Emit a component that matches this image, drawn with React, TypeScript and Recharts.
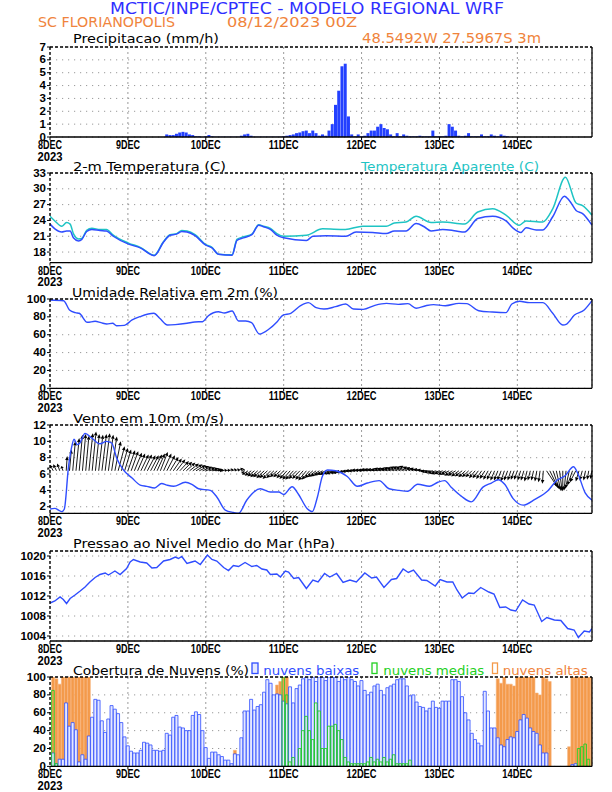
import React from 'react';
import { ComposedChart, Bar, Line, XAxis, YAxis, CartesianGrid, ReferenceLine } from 'recharts';

// ---------- axis categories ----------
const dayTicks = [0, 24, 48, 72, 96, 120, 144];
const dayLabels = ['8DEC', '9DEC', '10DEC', '11DEC', '12DEC', '13DEC', '14DEC'];
const yearLabel = '2023';
const hours = Array.from({ length: 168 }, (_, i) => i);

// ---------- precipitation (mm/h), hourly ----------
const precip = [
  0, 0, 0, 0, 0, 0, 0, 0, 0, 0,
  0, 0, 0, 0, 0, 0, 0, 0, 0, 0,
  0, 0, 0, 0, 0, 0, 0, 0, 0, 0,
  0, 0, 0, 0, 0, 0, 0.2, 0.15, 0.15, 0.25,
  0.35, 0.4, 0.35, 0.2, 0.15, 0.05, 0.05, 0, 0.05, 0.15,
  0.05, 0.02, 0.02, 0.02, 0.02, 0.02, 0.02, 0.02, 0.02, 0.1,
  0.2, 0.25, 0.1, 0.02, 0.02, 0.02, 0.02, 0.02, 0.02, 0.02,
  0.02, 0.02, 0.05, 0.1, 0.15, 0.2, 0.3, 0.35, 0.45, 0.5,
  0.3, 0.5, 0.3, 0.1, 0.2, 0.1, 0.5, 1.0, 2.5, 3.6,
  5.5, 5.7, 1.6, 0.2, 0.05, 0.2, 0.05, 0.1, 0.3, 0.5,
  0.5, 0.8, 1.0, 0.7, 0.6, 0.2, 0.05, 0.3, 0.05, 0.2,
  0.1, 0.05, 0.05, 0.05, 0.1, 0.05, 0.05, 0.05, 0.5, 0.05,
  0.05, 0.05, 0.1, 1.0, 0.8, 0.5, 0.1, 0.05, 0.1, 0.3,
  0.05, 0.05, 0.05, 0.2, 0.05, 0.05, 0.2, 0.1, 0.05, 0.2,
  0.1, 0.05, 0, 0, 0, 0, 0, 0, 0, 0,
  0, 0, 0, 0, 0, 0, 0, 0, 0, 0,
  0, 0, 0, 0, 0, 0, 0, 0,
];

// ---------- 2 m temperature (C) ----------
const tempHours = [0, 1.5, 3.6, 5.1, 6.2, 7.2, 8.8, 9.8, 11.3, 12.9, 15.4, 17.4, 19.5, 24.2, 27.8, 32.1, 35, 37, 39, 40.6, 42.2, 44.7, 48, 49.9, 51.9, 56.1, 57.6, 59.6, 62.2, 64.3, 65.8, 67.9, 69.9, 72, 79, 81, 85.1, 91.2, 94.3, 99.4, 103.6, 106.1, 109.7, 112.8, 115.3, 117.4, 121, 125.1, 127.7, 131.8, 136.4, 140.5, 142.6, 145.1, 146.7, 149.8, 151.8, 154.9, 158.5, 160, 162.1, 164.1, 167];
const tempValues = [23.3, 22.4, 21.8, 22.0, 22.0, 20.7, 20.1, 20.4, 21.9, 22.3, 22.1, 22.0, 21.0, 19.5, 18.8, 17.3, 19.9, 21.2, 21.4, 21.9, 21.8, 21.1, 19.3, 18.8, 17.6, 17.4, 20.2, 20.7, 21.3, 23.1, 22.8, 22.3, 21.2, 20.7, 20.2, 21.0, 21.1, 21.0, 21.8, 21.7, 21.5, 22.0, 22.0, 23.4, 22.8, 22.0, 22.3, 22.0, 21.8, 24.35, 24.8, 23.9, 22.6, 21.7, 22.6, 22.2, 22.2, 24.7, 28.6, 27.8, 25.9, 25.3, 23.1];

// ---------- apparent temperature (C) ----------
const appHours = [0, 1.5, 3.6, 5.1, 6.2, 7.2, 8.8, 9.8, 11.3, 12.9, 15.4, 17.4, 19.5, 24.2, 27.8, 32.1, 35, 37, 39, 40.6, 42.2, 44.7, 48, 49.9, 51.9, 56.1, 57.6, 59.6, 62.2, 64.3, 65.8, 67.9, 69.9, 72, 79, 84, 91, 96.4, 103.6, 106.1, 109.7, 112.8, 117.4, 121, 127.7, 131.8, 136.4, 140.5, 144.6, 146.7, 151.8, 154.9, 158.8, 162.1, 164.1, 167];
const appValues = [24.8, 23.9, 22.9, 23.6, 23.3, 21.5, 20.5, 20.6, 22.1, 22.5, 22.3, 22.3, 21.2, 19.7, 18.9, 17.4, 20.0, 21.3, 21.5, 22.1, 22.0, 21.3, 19.4, 18.9, 17.6, 17.5, 20.4, 20.9, 21.4, 23.2, 22.9, 22.5, 21.5, 21.0, 21.2, 22.4, 22.3, 22.9, 22.9, 23.5, 23.7, 24.8, 23.6, 23.7, 23.3, 25.6, 26.2, 25.0, 23.1, 23.9, 23.7, 26.2, 32.2, 27.3, 26.8, 25.0];

// ---------- relative humidity (%) ----------
const rhHours = [0, 4.2, 6, 7.8, 9, 11.5, 13.9, 15.7, 17.5, 19.3, 20.5, 22.9, 25.3, 27.7, 32, 33.8, 36.2, 38.6, 42.2, 44.6, 47, 48.8, 51.9, 53.7, 56.1, 58.1, 60.3, 62.1, 64.5, 67.5, 70, 71.8, 74.2, 77.2, 79.6, 82, 84.4, 88, 91.1, 93.5, 96.5, 100.1, 103.7, 107.3, 110.3, 112.8, 115.8, 118.2, 121.8, 126, 128.4, 132.1, 136.3, 140.5, 142.3, 144.7, 147.7, 151.9, 154.9, 158, 159.2, 161.6, 164.6, 167];
const rhValues = [98.9, 98.1, 87.7, 84.7, 84, 73.9, 75, 73.5, 72, 72.8, 70.1, 70.5, 76.5, 80.2, 84, 78.4, 70.9, 71.3, 72.8, 74.3, 74.6, 81.3, 85.8, 84.3, 86.6, 75.4, 75.4, 73.5, 60.8, 66.4, 74.6, 82, 84, 92.5, 95.9, 90.3, 88.8, 91.4, 94.4, 88.8, 88.4, 92.9, 95.1, 94, 94.8, 89.6, 92.5, 93.7, 92.5, 95.1, 94.8, 86.9, 85.4, 84.7, 94.4, 97.4, 95.9, 95.9, 84, 70.9, 72, 82, 87.7, 98.1];

// ---------- 10 m wind speed (m/s) ----------
const windHours = [0, 1.5, 2.6, 3.6, 4.4, 5.7, 6.7, 7.4, 8.4, 9.2, 10.8, 12.9, 15.4, 17.4, 19, 20.6, 22.6, 25.2, 27.8, 29.8, 32.2, 34.4, 36, 38.1, 41.7, 43.7, 45.8, 49.4, 51.4, 54, 56.5, 58.1, 60.6, 64.8, 67.9, 70.5, 72, 74.6, 76.6, 79.2, 80.8, 82.4, 83.9, 85.5, 88, 91.6, 94.7, 97.8, 101.4, 104.5, 107.6, 110.2, 113.3, 116.9, 119.5, 121.6, 123.6, 126.7, 129.8, 133.4, 136, 138.1, 140.1, 142.7, 145.8, 149.4, 153.5, 156.1, 158.7, 161.3, 162.6, 164.9, 167];
const windValues = [1.72, 1.8, 1.6, 1.4, 1.7, 6.9, 9.35, 10.25, 9.6, 9.8, 10.98, 10.4, 9.7, 10.0, 9.8, 7.9, 6.5, 5.55, 4.65, 4.5, 4.3, 4.85, 4.65, 4.5, 5.0, 4.75, 4.2, 4.0, 3.2, 1.6, 1.3, 1.2, 2.8, 4.2, 3.8, 3.8, 3.5, 4.45, 3.5, 1.8, 1.4, 3.2, 5.7, 6.5, 6.4, 5.7, 4.5, 4.9, 5.2, 4.2, 4.0, 3.9, 4.75, 4.5, 5.0, 5.2, 4.4, 3.3, 2.6, 4.4, 4.9, 5.3, 4.75, 3.0, 2.2, 2.9, 4.0, 5.2, 5.8, 6.9, 6.1, 3.7, 2.8];

// ---------- wind vectors (hourly): base level and tip offsets ----------
const windArrowBase = 6.4;
const windTipDx = [
  -0.8, -1, -1, -0.8, -0.5,
  0.3,
  0.6, 0.8, 1, 1, 1, 1, 1.2, 1.2, 1.2, 1.3, 1.4, 1.4, 1.5, 1.6,
  1.8, 2, 2, 2, 2.2, 2.2, 2.3, 2.3, 2.4, 2.4, 2.5, 2.5, 2.5, 2.4, 2.3, 2.4, 2.5, 2.6, 2.6, 2.7, 2.8, 2.8, 2.8, 2.9, 3, 3, 3, 3, 3, 3, 3,
  2.5, 1.5, 1.5, 1.5, 1.5, 1.5, 1.5, 1.5, 1,
  -1,
  -1.8, -2, -2.2, -2.3, -2.4, -2.4, -2.5, -2.5, -2.4, -2.3, -2.2, -2.2, -2.3, -2.4, -2.5, -2.5, -2.4, -2.4, -2.5, -2.5,
  -2.6, -2.7, -2.8, -2.8, -2.9, -3, -3, -3, -3, -3.1, -3.1, -3.1,
  -3.2, -3.2, -3.3, -3.3, -3.3, -3.4, -3.4, -3.4, -3.4, -3.3, -3.3, -3.3,
  -3.3, -3.3, -3.4, -3.4, -3.5, -3.5, -3.5, -3.4, -3.4, -3.3, -3.2, -3.1,
  -3, -2.9, -2.8, -2.8, -2.7, -2.6, -2.6, -2.5, -2.5, -2.4, -2.3, -2.2, -2.1, -2, -1.9, -1.8, -1.7, -1.6,
  -1.5, -1.4, -1.3, -1.2, -1.2, -1.1, -1.1, -1, -1, -1, -0.9, -0.9, -0.8, -0.8, -0.7, -0.6, -0.5, -0.3,
  3.2, 2.6, 2.0, 1.4, 0.8, 0, -0.6, -1.2, -1.6, -1.8,
  -1, -0.8, -0.6, -0.5, -0.5,
];
const windTipDy = [
  0.4, 0.7, 0.8, 0.9, 0.6,
  1.8,
  2.6, 3.6, 4.0, 4.4, 4.5, 4.3, 4.6, 4.8, 4.5, 4.4, 4.5, 4.6, 4.4, 4.2,
  3.6, 3.0, 2.8, 2.6, 2.5, 2.4, 2.2, 2.1, 2.0, 2.0, 1.9, 1.9, 2.0, 2.1, 2.3, 2.1, 1.9, 1.7, 1.5, 1.4, 1.2, 1.1, 1.0, 0.9, 0.8, 0.7, 0.6, 0.5, 0.4, 0.3, 0.2,
  0.1, 0.1, 0.1, 0.1, 0.2, 0.2, 0.2, 0.3, 0.2,
  -0.3,
  -0.5, -0.6, -0.7, -0.8, -0.8, -0.9, -0.9, -1.0, -0.9, -0.8, -0.8, -0.9, -1.0, -1.1, -1.1, -1.0, -1.0, -1.1, -1.2, -1.1,
  -0.9, -0.8, -0.7, -0.6, -0.5, -0.5, -0.4, -0.4, -0.3, -0.3, -0.2, -0.2,
  -0.1, 0, 0, 0.1, 0.1, 0.1, 0.2, 0.2, 0.2, 0.2, 0.3, 0.3,
  0.3, 0.4, 0.4, 0.5, 0.5, 0.5, 0.6, 0.5, 0.4, 0.3, 0.2, 0.1,
  -0.1, -0.2, -0.3, -0.4, -0.4, -0.5, -0.5, -0.6, -0.6, -0.7, -0.7, -0.8, -0.8, -0.8, -0.9, -0.9, -1.0, -1.0,
  -1.1, -1.1, -1.2, -1.2, -1.2, -1.3, -1.2, -1.2, -1.1, -1.1, -1.2, -1.2, -1.3, -1.2, -1.2, -1.3, -1.4, -1.6,
  -1.9, -2.1, -2.3, -2.4, -2.5, -2.5, -2.4, -2.2, -1.8, -1.4,
  -1.3, -1.2, -1.2, -1.1, -1.0,
];

// ---------- sea level pressure (hPa) ----------
const pHours = [0, 1.5, 3.1, 4.1, 5.1, 6.2, 7.7, 9.3, 10.8, 12.3, 13.9, 15.4, 17, 18, 20, 21.6, 23.6, 24.7, 25.7, 27.8, 29.8, 31.4, 32.9, 35, 37, 38.6, 39.6, 40.6, 42.2, 43.7, 44.7, 46.3, 48.5, 49.9, 51.4, 53.5, 55, 56.5, 58.1, 60.1, 62.2, 63.7, 65.3, 66.8, 67.9, 69.9, 71, 72.5, 73.5, 75.1, 76.6, 79, 81, 82.6, 84.6, 86.2, 88.3, 90.3, 92.4, 94.4, 97, 99.1, 100.6, 102.9, 105.2, 106.8, 108.8, 110.4, 112, 114.5, 116.1, 118.7, 120.2, 122.3, 124.1, 125.4, 127, 129, 130.6, 132.7, 135.2, 136.8, 138.6, 140.4, 142, 143.5, 145.6, 147.6, 149.2, 151.5, 153.1, 155.4, 157.4, 159.5, 161.5, 162.8, 164.6, 166.2, 167];
const pValues = [1010.6, 1011.0, 1011.8, 1011.3, 1010.5, 1011.5, 1012.2, 1013.0, 1013.8, 1014.8, 1015.7, 1016.3, 1016.6, 1016.2, 1017.0, 1016.3, 1017.5, 1018.8, 1019.3, 1018.8, 1018.6, 1017.6, 1017.7, 1019.0, 1019.3, 1019.8, 1019.5, 1019.9, 1018.5, 1018.8, 1019.0, 1018.3, 1020.2, 1019.3, 1019.0, 1017.7, 1017.1, 1018.1, 1017.9, 1018.7, 1017.9, 1018.1, 1017.4, 1017.2, 1016.3, 1016.4, 1015.8, 1017.0, 1016.8, 1015.5, 1015.7, 1013.5, 1015.2, 1014.8, 1016.5, 1015.8, 1016.5, 1014.7, 1015.2, 1014.8, 1016.6, 1015.6, 1015.8, 1013.7, 1015.3, 1015.5, 1017.4, 1016.7, 1017.2, 1015.2, 1015.1, 1014.0, 1015.3, 1014.8, 1014.8, 1013.2, 1011.6, 1012.6, 1012.5, 1013.7, 1012.8, 1012.4, 1009.7, 1009.8, 1009.2, 1009.0, 1011.2, 1010.4, 1010.2, 1006.9, 1007.7, 1007.2, 1007.1, 1005.5, 1005.2, 1003.7, 1005.0, 1004.8, 1005.5];

// ---------- cloud cover (%), hourly ----------
const cloudLow = [
  0, 15, 3, 8, 8, 71, 45, 49, 41, 5,
  13, 8, 34, 55, 75, 74, 51, 38, 53, 68,
  64, 59, 49, 33, 23, 17, 15, 15, 18, 27,
  26, 24, 18, 18, 17, 18, 37, 35, 55, 57,
  44, 43, 40, 40, 57, 61, 58, 40, 21, 9,
  16, 16, 13, 11, 7, 7, 3, 14, 13, 32,
  62, 62, 75, 63, 67, 69, 83, 97, 93, 80,
  81, 80, 73, 70, 89, 71, 87, 91, 98, 100,
  97, 100, 95, 100, 100, 96, 100, 100, 100, 95,
  100, 97, 100, 97, 95, 90, 96, 85, 80, 83,
  90, 92, 85, 80, 88, 90, 92, 97, 98, 98,
  90, 79, 80, 72, 67, 66, 62, 65, 73, 66,
  65, 73, 73, 73, 97, 97, 95, 78, 60, 52,
  37, 30, 26, 23, 84, 62, 43, 43, 32, 24,
  22, 30, 33, 32, 39, 52, 58, 54, 43, 39,
  37, 24, 15, 15, 0, 0, 0, 0, 0, 0,
  0, 2, 3, 0, 0, 0, 0, 0,
];
const cloudMid = [
  0, 85, 3, 0, 0, 0, 0, 0, 0, 0,
  0, 0, 0, 0, 0, 0, 0, 0, 0, 0,
  0, 0, 0, 0, 0, 0, 0, 0, 0, 0,
  0, 0, 0, 0, 0, 0, 0, 0, 0, 0,
  0, 0, 0, 0, 0, 0, 0, 0, 0, 0,
  0, 0, 0, 0, 0, 0, 0, 0, 0, 0,
  0, 0, 0, 0, 0, 0, 0, 0, 0, 0,
  0, 0, 100, 80, 5, 10, 0, 20, 40, 56,
  40, 30, 71, 62, 20, 20, 45, 45, 47, 40,
  30, 10, 5, 3, 3, 3, 3, 3, 5, 10,
  5, 8, 5, 10, 5, 8, 13, 3, 3, 3,
  3, 7, 0, 0, 0, 0, 0, 0, 0, 0,
  0, 0, 0, 0, 0, 0, 0, 0, 0, 0,
  0, 0, 0, 0, 0, 0, 0, 0, 0, 0,
  0, 0, 0, 0, 0, 0, 0, 0, 0, 0,
  0, 0, 0, 0, 0, 0, 0, 0, 0, 0,
  0, 0, 0, 20, 22, 25, 8, 0,
];
const cloudHigh = [
  0, 100, 98, 92, 100, 100, 100, 100, 100, 100,
  100, 100, 100, 25, 0, 0, 0, 0, 0, 0,
  0, 0, 0, 0, 0, 0, 0, 0, 0, 0,
  0, 0, 0, 0, 0, 0, 0, 0, 0, 0,
  0, 0, 0, 0, 0, 0, 0, 0, 0, 0,
  0, 0, 0, 0, 0, 0, 0, 18, 5, 0,
  0, 0, 0, 0, 0, 0, 0, 0, 0, 44,
  91, 95, 100, 100, 30, 25, 0, 0, 0, 0,
  0, 0, 0, 0, 0, 0, 0, 0, 0, 0,
  0, 0, 0, 0, 0, 0, 0, 0, 0, 0,
  0, 0, 0, 0, 0, 0, 0, 0, 0, 0,
  0, 0, 0, 0, 0, 0, 0, 0, 0, 0,
  0, 0, 0, 0, 0, 0, 0, 7, 0, 0,
  0, 0, 0, 0, 0, 0, 0, 12, 98, 93,
  100, 92, 92, 90, 100, 100, 100, 100, 100, 100,
  82, 80, 100, 98, 95, 0, 0, 0, 0, 0,
  22, 100, 100, 100, 100, 100, 100, 100,
];

// ---------- tables built from the arrays ----------
const zip = (xs: number[], vs: number[]) => xs.map((h, i) => ({ h, v: vs[i] }));
const precipData = hours.map((h) => ({ h, v: precip[h] }));
const tempData = zip(tempHours, tempValues);
const appData = zip(appHours, appValues);
const rhData = zip(rhHours, rhValues);
const windData = zip(windHours, windValues);
const pData = zip(pHours, pValues);
const cloudData = hours.map((h) => ({ h, low: cloudLow[h], mid: cloudMid[h], high: cloudHigh[h] }));

// ---------- styles ----------
const BLUE = '#2f4dff';
const CYAN = '#1ec4c4';
const ORANGE_TXT = '#f0843c';
const HEAD_BLUE = '#2f2fff';
const FONT_TICK = '"Liberation Sans", Arial, sans-serif';
const FONT_TITLE = '"DejaVu Sans", "Liberation Sans", sans-serif';
const X_AXIS_H = 26;
const TOP_PAD = 8;
const X_MAX = 167;

const renderXTick = (props: any) => {
  const { x, y, payload } = props;
  const i = dayTicks.indexOf(payload.value);
  const label = i >= 0 ? dayLabels[i] : '';
  return (
    <g>
      <text x={x} y={y + 7} textAnchor="middle" fontFamily={FONT_TICK} fontWeight="bold" fontSize={12} fill="#000" textLength={label.length * 6} lengthAdjust="spacingAndGlyphs">{label}</text>
      {payload.value === 0 ? (
        <text x={x} y={y + 18.5} textAnchor="middle" fontFamily={FONT_TICK} fontWeight="bold" fontSize={12} fill="#000" textLength={25} lengthAdjust="spacingAndGlyphs">{yearLabel}</text>
      ) : null}
    </g>
  );
};

const renderYTick = (props: any) => {
  const { x, y, payload } = props;
  const s = String(payload.value);
  return (
    <text x={x} y={y} dy={3.6} textAnchor="end" fontFamily={FONT_TICK} fontWeight="bold" fontSize={11.5} fill="#000" textLength={s.length * 6.4} lengthAdjust="spacingAndGlyphs">{s}</text>
  );
};

const renderArrow = (p: any) => {
  const { x1, y1, x2, y2 } = p;
  const dx = x2 - x1;
  const dy = y2 - y1;
  const len = Math.hypot(dx, dy);
  if (!isFinite(len) || len < 0.8) return <g />;
  const ux = dx / len;
  const uy = dy / len;
  const hl = Math.min(4, len * 0.45);
  const hw = 1.8;
  const bx = x2 - ux * hl;
  const by = y2 - uy * hl;
  return (
    <g>
      <line x1={x1} y1={y1} x2={bx} y2={by} stroke="#000" strokeWidth={0.9} />
      <polygon points={`${x2},${y2} ${bx - uy * hw},${by + ux * hw} ${bx + uy * hw},${by - ux * hw}`} fill="#000" />
    </g>
  );
};

function frame(yDomain: number[], yTicks: number[]) {
  return [
    <CartesianGrid key="gh" vertical={false} stroke="#9a9a9a" strokeDasharray="1.2 4.8" />,
    <CartesianGrid key="gv" horizontal={false} stroke="#9a9a9a" strokeDasharray="2 3" />,
    <XAxis key="x" dataKey="h" type="number" domain={[0, X_MAX]} ticks={dayTicks} interval={0} allowDataOverflow
      tick={renderXTick} tickSize={3} tickMargin={2} tickLine={{ stroke: '#000' }} axisLine={{ stroke: '#000', strokeWidth: 1.3 }} height={X_AXIS_H} />,
    <YAxis key="y" type="number" domain={yDomain} ticks={yTicks} interval={0} allowDataOverflow width={50}
      tick={renderYTick} tickSize={3} tickMargin={1} tickLine={{ stroke: '#000' }} axisLine={{ stroke: '#000', strokeWidth: 1.3, strokeDasharray: '3 2' }} />,
  ];
}

function border(yTop: number) {
  return [
    <ReferenceLine key="bt" y={yTop} stroke="#000" strokeWidth={1.3} strokeDasharray="3 2" ifOverflow="visible" />,
    <ReferenceLine key="br" x={X_MAX} stroke="#000" strokeWidth={1.3} ifOverflow="visible" />,
  ];
}

const Panel = ({ top, plotH, data, children }: any) => (
  <div style={{ position: 'absolute', left: 0, top: top - TOP_PAD }}>
    <ComposedChart width={612} height={plotH + TOP_PAD + X_AXIS_H} data={data} margin={{ top: TOP_PAD, right: 20, bottom: 0, left: 0 }}>
      {children}
    </ComposedChart>
  </div>
);

const T = ({ x, y, w, size = 13, color = '#000', children }: any) => (
  <text x={x} y={y} fontFamily={FONT_TITLE} fontSize={size} fill={color} textLength={w} lengthAdjust="spacingAndGlyphs">{children}</text>
);

export default function App() {
  const windArrows = hours.map((h) => (
    <ReferenceLine key={'a' + h} ifOverflow="visible" shape={renderArrow}
      segment={[{ x: h, y: windArrowBase }, { x: h + windTipDx[h], y: windArrowBase + windTipDy[h] }]} />
  ));
  return (
    <div style={{ position: 'absolute', left: 0, top: 0, width: 612, height: 792, background: '#fff' }}>
      {/* Precipitation */}
      <Panel top={46.7} plotH={90} data={precipData}>
        {frame([0, 7], [0, 1, 2, 3, 4, 5, 6, 7])}
        <Bar dataKey="v" fill="#2340ff" barSize={3} isAnimationActive={false} />
        {border(7)}
      </Panel>

      {/* Temperature */}
      <Panel top={172.7} plotH={89.6}>
        {frame([16, 33], [18, 21, 24, 27, 30, 33])}
        <Line data={appData} dataKey="v" type="monotone" stroke={CYAN} strokeWidth={1.5} dot={false} isAnimationActive={false} />
        <Line data={tempData} dataKey="v" type="monotone" stroke={BLUE} strokeWidth={1.5} dot={false} isAnimationActive={false} />
        {border(33)}
      </Panel>

      {/* Relative humidity */}
      <Panel top={299} plotH={89.3}>
        {frame([0, 100], [0, 20, 40, 60, 80, 100])}
        <Line data={rhData} dataKey="v" type="monotone" stroke={BLUE} strokeWidth={1.4} dot={false} isAnimationActive={false} />
        {border(100)}
      </Panel>

      {/* Wind */}
      <Panel top={425} plotH={88.3}>
        {frame([1.2, 12], [2, 4, 6, 8, 10, 12])}
        {windArrows}
        <Line data={windData} dataKey="v" type="monotone" stroke={BLUE} strokeWidth={1.4} dot={false} isAnimationActive={false} />
        {border(12)}
      </Panel>

      {/* Pressure */}
      <Panel top={550.7} plotH={90}>
        {frame([1003, 1021], [1004, 1008, 1012, 1016, 1020])}
        <Line data={pData} dataKey="v" type="linear" stroke={BLUE} strokeWidth={1.4} dot={false} isAnimationActive={false} />
        {border(1021)}
      </Panel>

      {/* Clouds */}
      <Panel top={677.3} plotH={89.4} data={cloudData}>
        {frame([0, 100], [0, 20, 40, 60, 80, 100])}
        <XAxis xAxisId="b" dataKey="h" type="number" domain={[0, X_MAX]} allowDataOverflow hide />
        <XAxis xAxisId="c" dataKey="h" type="number" domain={[0, X_MAX]} allowDataOverflow hide />
        <Bar dataKey="high" fill="#f49a4a" stroke="#f7b27a" strokeWidth={0.6} barSize={3} isAnimationActive={false} />
        <Bar xAxisId="b" dataKey="low" fill="#e4e8ff" stroke="#2f4dff" strokeWidth={0.8} barSize={3} isAnimationActive={false} />
        <Bar xAxisId="c" dataKey="mid" fill="none" stroke="#22d022" strokeWidth={0.9} barSize={2.6} isAnimationActive={false} />
        {border(100)}
      </Panel>

      {/* Texts */}
      <svg width={612} height={792} style={{ position: 'absolute', left: 0, top: 0, pointerEvents: 'none' }}>
        <T x={110} y={13.5} w={394} size={15} color={HEAD_BLUE}>MCTIC/INPE/CPTEC - MODELO REGIONAL WRF</T>
        <T x={38} y={26.5} w={137} size={14} color={ORANGE_TXT}>SC FLORIANOPOLIS</T>
        <T x={227} y={26.5} w={130} size={14} color={ORANGE_TXT}>08/12/2023 00Z</T>
        <T x={362} y={42.5} w={179} size={14} color={ORANGE_TXT}>48.5492W 27.5967S 3m</T>
        <T x={73} y={43.3} w={146}>Precipitacao (mm/h)</T>
        <T x={73} y={170.7} w={153}>2-m Temperatura (C)</T>
        <T x={361} y={170.7} w={178} color={CYAN}>Temperatura Aparente (C)</T>
        <T x={72} y={296.7} w={206}>Umidade Relativa em 2m (%)</T>
        <T x={73} y={422.7} w={151}>Vento em 10m (m/s)</T>
        <T x={73} y={548.3} w={262}>Pressao ao Nivel Medio do Mar (hPa)</T>
        <T x={73} y={675} w={176}>Cobertura de Nuvens (%)</T>
        <rect x={252} y={663} width={6} height={10.5} fill="#e4e8ff" stroke="#2f4dff" strokeWidth={1.3} />
        <T x={263.3} y={674.5} w={96} color="#2f4dff">nuvens baixas</T>
        <rect x={372} y={663} width={5} height={10.5} fill="#fff" stroke="#22d022" strokeWidth={1.3} />
        <T x={383.3} y={674.5} w={101} color="#22d022">nuvens medias</T>
        <rect x={492.5} y={663} width={5} height={10.5} fill="#fff" stroke="#f49a4a" strokeWidth={1.3} />
        <T x={502.7} y={674.5} w={85} color={ORANGE_TXT}>nuvens altas</T>
      </svg>
    </div>
  );
}
